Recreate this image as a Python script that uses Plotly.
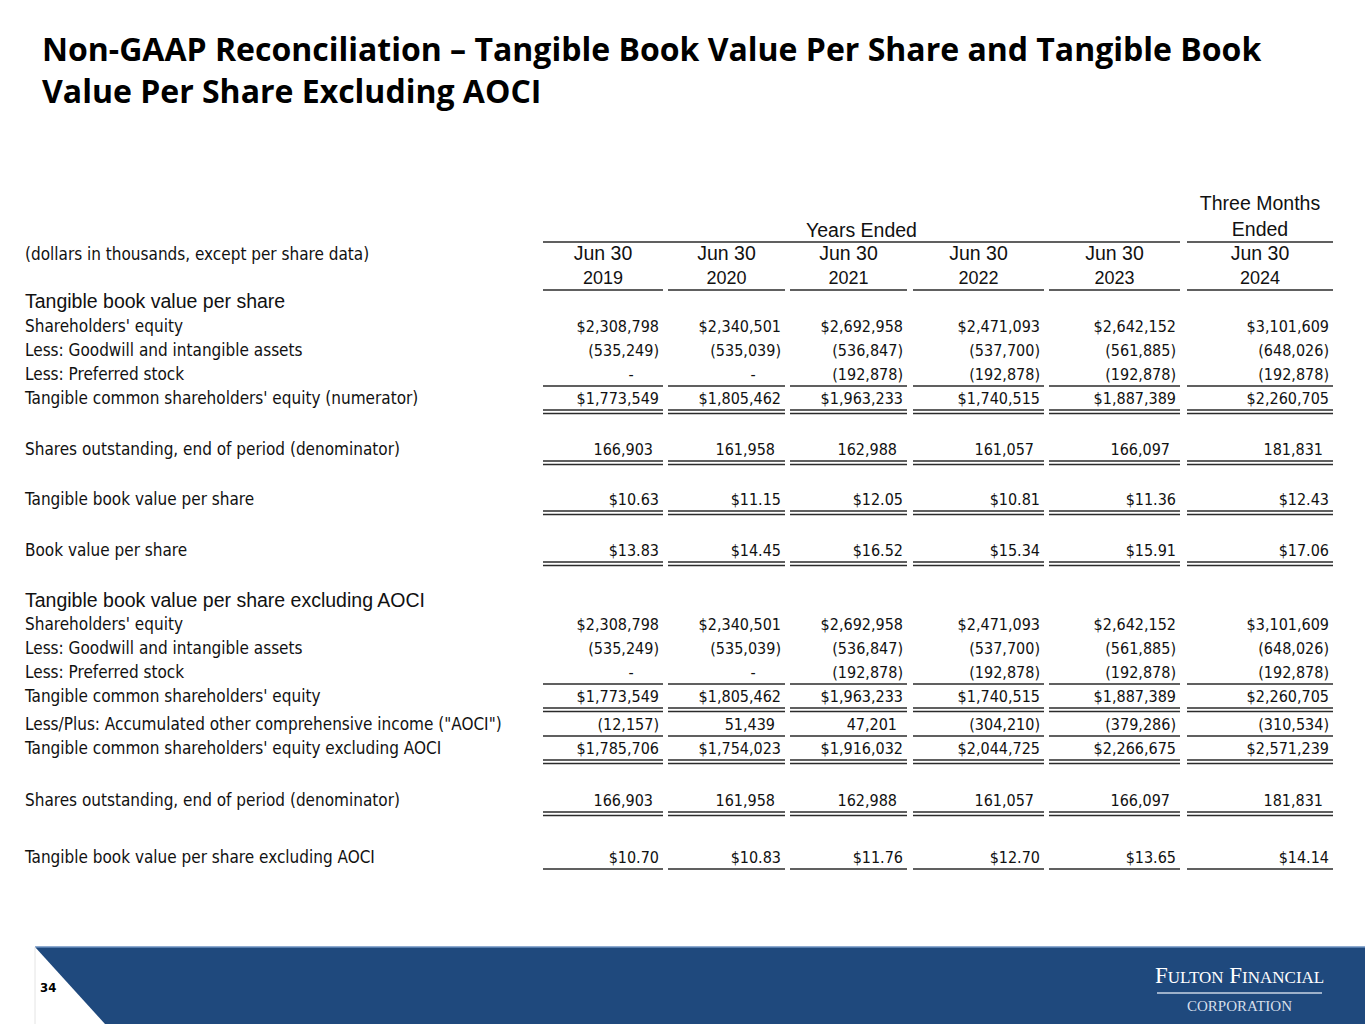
import plotly.graph_objects as go

# values (dollars in thousands, except per share data)
periods = ["2019", "2020", "2021", "2022", "2023", "2024"]
shareholders_equity = [2308798, 2340501, 2692958, 2471093, 2642152, 3101609]
goodwill_intangibles = [-535249, -535039, -536847, -537700, -561885, -648026]
preferred_stock = [0, 0, -192878, -192878, -192878, -192878]
tangible_common_equity = [1773549, 1805462, 1963233, 1740515, 1887389, 2260705]
shares_outstanding = [166903, 161958, 162988, 161057, 166097, 181831]
tangible_bvps = [10.63, 11.15, 12.05, 10.81, 11.36, 12.43]
book_value_per_share = [13.83, 14.45, 16.52, 15.34, 15.91, 17.06]
aoci = [-12157, 51439, 47201, -304210, -379286, -310534]
tangible_equity_ex_aoci = [1785706, 1754023, 1916032, 2044725, 2266675, 2571239]
tangible_bvps_ex_aoci = [10.70, 10.83, 11.76, 12.70, 13.65, 14.14]

NARROW = "Liberation Sans Narrow, Arial Narrow, DejaVu Sans Condensed, sans-serif"
REGULAR = "Liberation Sans, Arial, sans-serif"
LINE = "#2b2b2b"

col_left = [543, 668, 790, 913, 1049, 1187]
col_right = [663, 785, 907, 1044, 1180, 1333]

# (label, values, kind, y, underline)
rows = [
    ("Shareholders' equity", shareholders_equity, "dollar", 326, None),
    ("Less: Goodwill and intangible assets", goodwill_intangibles, "number", 350, None),
    ("Less: Preferred stock", preferred_stock, "number", 374, "single"),
    ("Tangible common shareholders' equity (numerator)", tangible_common_equity, "dollar", 398, "double"),
    ("Shares outstanding, end of period (denominator)", shares_outstanding, "number", 449, "double"),
    ("Tangible book value per share", tangible_bvps, "pershare", 499, "double"),
    ("Book value per share", book_value_per_share, "pershare", 550, "double"),
    ("Shareholders' equity", shareholders_equity, "dollar", 624, None),
    ("Less: Goodwill and intangible assets", goodwill_intangibles, "number", 648, None),
    ("Less: Preferred stock", preferred_stock, "number", 672, "single"),
    ("Tangible common shareholders' equity", tangible_common_equity, "dollar", 696, "double"),
    ("Less/Plus: Accumulated other comprehensive income (\"AOCI\")", aoci, "number", 724, "single"),
    ("Tangible common shareholders' equity excluding AOCI", tangible_equity_ex_aoci, "dollar", 748, "double"),
    ("Shares outstanding, end of period (denominator)", shares_outstanding, "number", 800, "double"),
    ("Tangible book value per share excluding AOCI", tangible_bvps_ex_aoci, "pershare", 857, "single"),
]
sections = [("Tangible book value per share", 302), ("Tangible book value per share excluding AOCI", 601)]


def fmt(v, kind):
    if v == 0:
        return "-"
    s = f"{abs(v):,.2f}" if kind == "pershare" else f"{abs(v):,}"
    if kind in ("dollar", "pershare"):
        s = "$" + s
    if v < 0:
        s = "(" + s + ")"
    return s


fig = go.Figure()

TXT_DY = 2  # the condensed font sits a little high
vx, vy, vt = [], [], []
dx, dy = [], []
shapes = []
for label, values, kind, y, under in rows:
    for i, v in enumerate(values):
        right = col_right[i] - 4
        txt = fmt(v, kind)
        if txt == "-":
            dx.append(right - 28)
            dy.append(y + TXT_DY)
            continue
        if kind == "number" and not txt.endswith(")"):
            right -= 6
        vx.append(right)
        vy.append(y + TXT_DY)
        vt.append(txt)
    if under:
        ly = y + 12
        offsets = [0] if under == "single" else [0, 3.5]
        for l, r in zip(col_left, col_right):
            for o in offsets:
                shapes.append(dict(type="line", xref="x", yref="y", x0=l, x1=r,
                                   y0=ly + o, y1=ly + o, line=dict(color=LINE, width=1.4)))

fig.add_trace(go.Scatter(x=vx, y=vy, text=vt, mode="text", textposition="middle left",
                         textfont=dict(family=NARROW, size=16, color="#111"), hoverinfo="skip"))
fig.add_trace(go.Scatter(x=dx, y=dy, text=["-"] * len(dx), mode="text", textposition="middle center",
                         textfont=dict(family=NARROW, size=16, color="#111"), hoverinfo="skip"))

labels = [r[0] for r in rows] + ["(dollars in thousands, except per share data)"]
label_y = [r[3] + TXT_DY for r in rows] + [254 + TXT_DY]
fig.add_trace(go.Scatter(x=[25] * len(labels), y=label_y, text=labels, mode="text",
                         textposition="middle right",
                         textfont=dict(family=NARROW, size=17, color="#111"), hoverinfo="skip"))
fig.add_trace(go.Scatter(x=[25] * len(sections), y=[s[1] + 1 for s in sections], text=[s[0] for s in sections],
                         mode="text", textposition="middle right",
                         textfont=dict(family=REGULAR, size=19.5, color="#111"), hoverinfo="skip"))

# column headers
centers = [(l + r) / 2 for l, r in zip(col_left, col_right)]
fig.add_trace(go.Scatter(x=centers, y=[279] * 6, text=periods, mode="text", textposition="middle center",
                         textfont=dict(family=REGULAR, size=18, color="#111"), hoverinfo="skip"))
hx = centers + [(col_left[0] + col_right[4]) / 2, centers[5], centers[5]]
hy = [255] * 6 + [232, 205, 231]
ht = ["Jun 30"] * 6 + ["Years Ended", "Three Months", "Ended"]
fig.add_trace(go.Scatter(x=hx, y=hy, text=ht, mode="text", textposition="middle center",
                         textfont=dict(family=REGULAR, size=19.5, color="#111"), hoverinfo="skip"))

shapes.append(dict(type="line", xref="x", yref="y", x0=col_left[0], x1=col_right[4], y0=242, y1=242,
                   line=dict(color=LINE, width=1.4)))
shapes.append(dict(type="line", xref="x", yref="y", x0=col_left[5], x1=col_right[5], y0=242, y1=242,
                   line=dict(color=LINE, width=1.4)))
for l, r in zip(col_left, col_right):
    shapes.append(dict(type="line", xref="x", yref="y", x0=l, x1=r, y0=290, y1=290,
                       line=dict(color=LINE, width=1.4)))

# footer banner
shapes.append(dict(type="path", xref="x", yref="y", path="M 35 947 L 1365 947 L 1365 1024 L 105 1024 Z",
                   fillcolor="#1f497d", line=dict(width=0), layer="below"))
shapes.append(dict(type="line", xref="x", yref="y", x0=35, x1=1365, y0=947, y1=947,
                   line=dict(color="#6a8fbf", width=1.5)))
shapes.append(dict(type="line", xref="x", yref="y", x0=35, x1=35, y0=947, y1=1024,
                   line=dict(color="#e4e4e4", width=1)))
shapes.append(dict(type="line", xref="x", yref="y", x0=1157, x1=1322, y0=993, y1=993,
                   line=dict(color="#c9d4e4", width=1.5)))

annotations = [
    dict(x=40, y=69, xref="x", yref="y", xanchor="left", yanchor="middle", align="left", showarrow=False,
         text="<b>Non-GAAP Reconciliation – Tangible Book Value Per Share and Tangible Book</b><br>"
              "<b>Value Per Share Excluding AOCI</b>",
         font=dict(family="Open Sans, Noto Sans, sans-serif", size=32, color="#000")),
    dict(x=38, y=987, xref="x", yref="y", xanchor="left", yanchor="middle", showarrow=False,
         text="<b>34</b>", font=dict(family="DejaVu Sans Condensed, sans-serif", size=13, color="#000")),
    dict(x=1239, y=975, xref="x", yref="y", xanchor="center", yanchor="middle", showarrow=False,
         text="F<span style='font-size:17px'>ULTON</span> F<span style='font-size:17px'>INANCIAL</span>",
         font=dict(family="Liberation Serif, Times New Roman, serif", size=23, color="#ffffff")),
    dict(x=1239, y=1006, xref="x", yref="y", xanchor="center", yanchor="middle", showarrow=False,
         text="CORPORATION", font=dict(family="Liberation Serif, Times New Roman, serif", size=15, color="#d5deea")),
]

fig.update_layout(
    width=1365, height=1024,
    margin=dict(l=0, r=0, t=0, b=0),
    paper_bgcolor="white", plot_bgcolor="white",
    showlegend=False,
    xaxis=dict(range=[0, 1365], visible=False, fixedrange=True),
    yaxis=dict(range=[1024, 0], visible=False, fixedrange=True),
    shapes=shapes,
    annotations=annotations,
)

fig.write_html("out.html", config={"displayModeBar": False},
               post_script="document.body.style.margin='0';")
